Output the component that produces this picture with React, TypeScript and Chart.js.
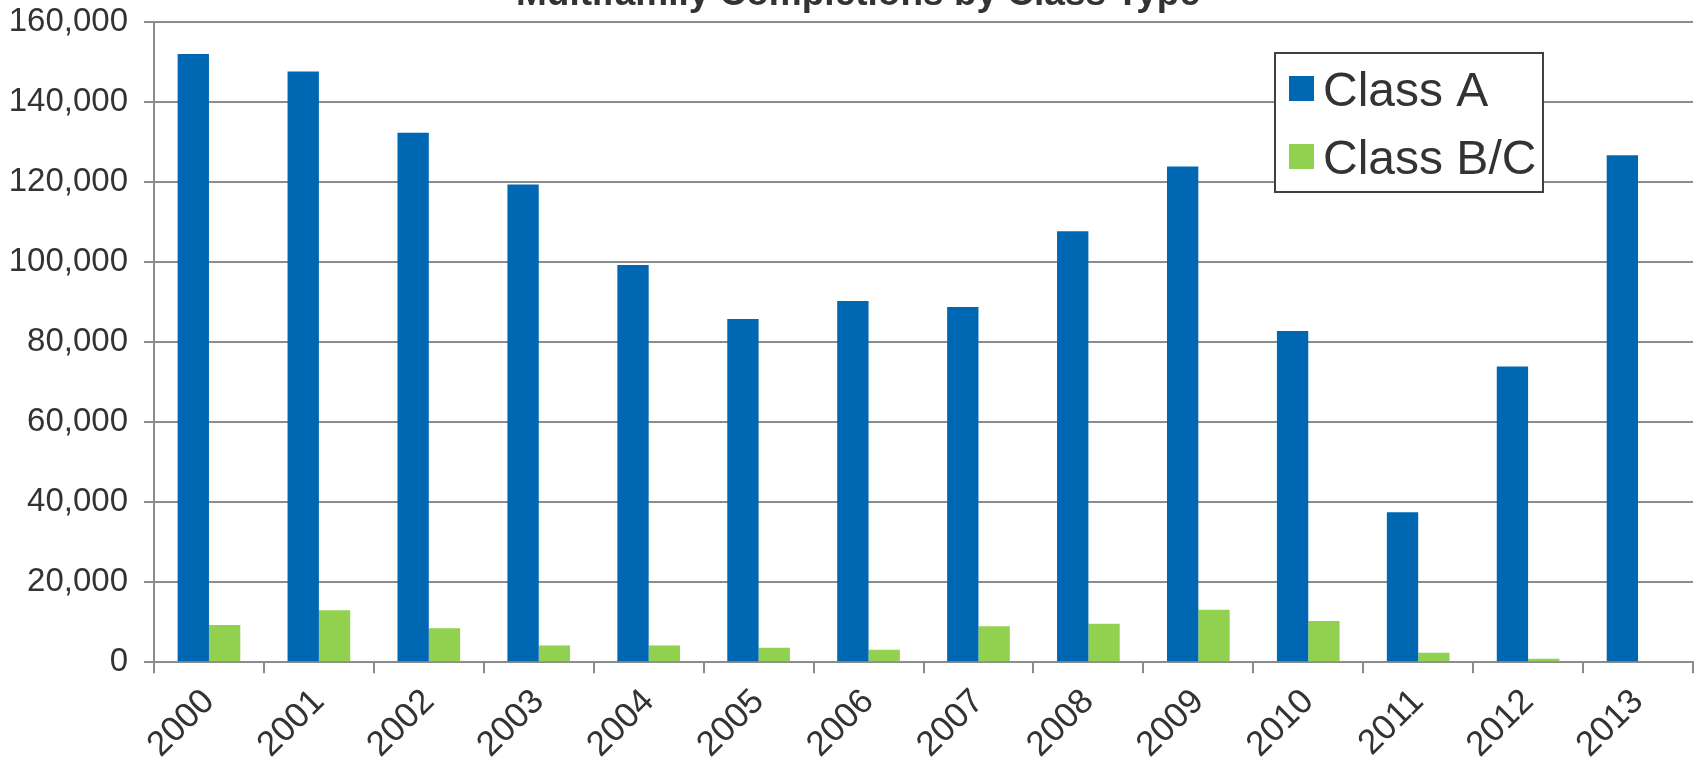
import React, { useEffect, useRef } from "react";
import { Chart, registerables } from "chart.js";

Chart.register(...registerables);

const TITLE = "Multifamily Completions by Class Type";
const YEARS = ["2000", "2001", "2002", "2003", "2004", "2005", "2006", "2007", "2008", "2009", "2010", "2011", "2012", "2013"];
const CLASS_A = [152000, 147600, 132300, 119400, 99300, 85800, 90300, 88800, 107700, 123900, 82800, 37500, 73900, 126700];
const CLASS_BC = [9300, 13000, 8500, 4200, 4200, 3600, 3100, 9000, 9600, 13100, 10300, 2400, 900, 0];
const SERIES_LABELS = ["Class A", "Class B/C"];
const SERIES_COLORS = ["#0068B3", "#92D050"];
const Y_MIN = 0;
const Y_MAX = 160000;
const Y_STEP = 20000;

const FONT = '"Liberation Sans", Arial, Helvetica, sans-serif';
const GRID = "#8c8c8c";
const TEXT = "#333333";

const topTitle = {
  id: "topTitle",
  afterDraw(chart: any) {
    const { ctx } = chart;
    ctx.save();
    ctx.font = "bold 37px " + FONT;
    ctx.fillStyle = TEXT;
    ctx.textAlign = "center";
    ctx.textBaseline = "alphabetic";
    ctx.fillText(TITLE, 858, 5);
    ctx.restore();
  },
};

const boxLegend = {
  id: "boxLegend",
  afterDraw(chart: any) {
    const { ctx, chartArea } = chart;
    const w = 268;
    const h = 139;
    const x = chartArea.right - 418;
    const y = chartArea.top + 31;
    ctx.save();
    ctx.fillStyle = "#ffffff";
    ctx.fillRect(x, y, w, h);
    ctx.strokeStyle = "#404040";
    ctx.lineWidth = 2;
    ctx.strokeRect(x, y, w, h);
    ctx.font = "48px " + FONT;
    ctx.textBaseline = "alphabetic";
    ctx.textAlign = "left";
    chart.data.datasets.forEach((ds: any, i: number) => {
      const base = y + 53 + i * 68;
      ctx.fillStyle = ds.backgroundColor;
      ctx.fillRect(x + 14, base - 30, 25, 25);
      ctx.fillStyle = TEXT;
      ctx.fillText(ds.label, x + 48, base);
    });
    ctx.restore();
  },
};

export default function App() {
  const ref = useRef<HTMLCanvasElement | null>(null);

  useEffect(() => {
    if (!ref.current) return;
    const chart = new Chart(ref.current, {
      type: "bar",
      data: {
        labels: YEARS,
        datasets: [
          { label: SERIES_LABELS[0], data: CLASS_A, backgroundColor: SERIES_COLORS[0], borderWidth: 0 },
          { label: SERIES_LABELS[1], data: CLASS_BC, backgroundColor: SERIES_COLORS[1], borderWidth: 0 },
        ],
      },
      options: {
        responsive: false,
        animation: false,
        devicePixelRatio: 1,
        layout: { padding: { left: 5, right: 5, top: 22, bottom: 0 } },
        datasets: { bar: { categoryPercentage: 0.57, barPercentage: 1 } },
        plugins: {
          legend: { display: false },
          tooltip: { enabled: false },
          title: { display: false },
        },
        scales: {
          x: {
            grid: { drawOnChartArea: false, drawTicks: true, tickLength: 11, lineWidth: 2, color: GRID },
            border: { display: true, color: GRID, width: 2 },
            ticks: {
              color: TEXT,
              font: { family: FONT, size: 35 },
              minRotation: 45,
              maxRotation: 45,
              padding: 8,
              autoSkip: false,
            },
          },
          y: {
            min: Y_MIN,
            max: Y_MAX,
            grid: { drawTicks: true, tickLength: 10, lineWidth: 2, color: GRID },
            border: { display: true, color: GRID, width: 2 },
            ticks: {
              stepSize: Y_STEP,
              color: TEXT,
              padding: 16,
              font: { family: FONT, size: 33 },
              callback: (v: any) => Number(v).toLocaleString("en-US"),
            },
            afterFit: (scale: any) => {
              scale.width = 149;
              scale.paddingTop = 0;
              scale.paddingBottom = 0;
            },
          },
        },
      },
      plugins: [topTitle, boxLegend],
    });
    return () => chart.destroy();
  }, []);

  return (
    <div style={{ position: "fixed", left: 0, top: 0, width: 1698, height: 769, overflow: "hidden", background: "#fff" }}>
      <canvas
        ref={ref}
        width={1698}
        height={774}
        style={{ position: "absolute", left: 0, top: 0, width: 1698, height: 774 }}
      />
    </div>
  );
}
